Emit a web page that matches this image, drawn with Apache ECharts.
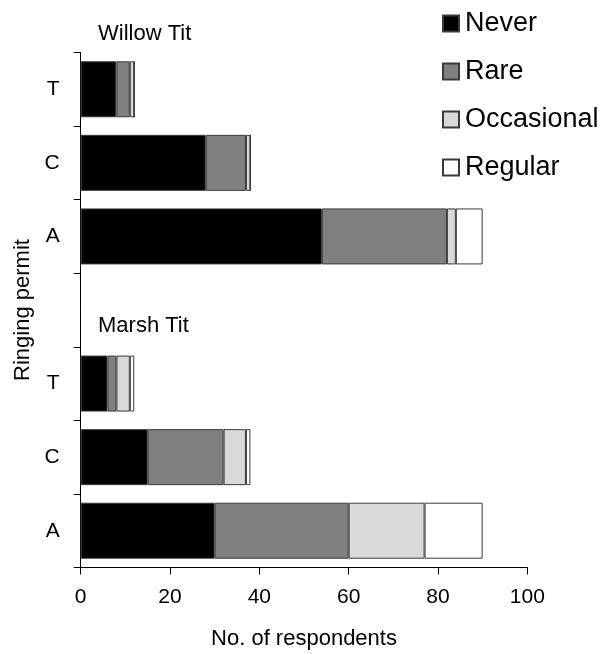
<!DOCTYPE html>
<html><head><meta charset="utf-8">
<script src="https://cdn.jsdelivr.net/npm/echarts@6/dist/echarts.min.js"></script>
<style>html,body{margin:0;padding:0;background:#fff}#c{width:607px;height:654px}</style>
</head><body><div id="c"></div>
<script>
const slots = ['WT','WC','WA','gap','MT','MC','MA'];
const slotLabels = ['T','C','A','','T','C','A'];
const groupLabels = ['Willow Tit','Marsh Tit'];
const seriesNames = ['Never','Rare','Occasional','Regular'];
const never      = [8, 28, 54, null, 6, 15, 30];
const rare       = [3, 9, 28, null, 2, 17, 30];
const occasional = [1, 1, 2, null, 3, 5, 17];
const regular    = [0, 0, 6, null, 1, 1, 13];
const xTicks = [0, 20, 40, 60, 80, 100];
const colors = ['#000000','#808080','#d9d9d9','#ffffff'];

const font = 'Liberation Sans, Arial, sans-serif';
const chart = echarts.init(document.getElementById('c'), null, {renderer:'canvas'});
const values = [never, rare, occasional, regular];
const series = seriesNames.map((n,i)=>({
  name:n, type:'bar', stack:'s', barWidth:56,
  data: values[i],
  itemStyle:{color:colors[i], borderColor:'#3a3a3a', borderWidth:1},
  emphasis:{disabled:true}, animation:false
}));
chart.setOption({
  animation:false,
  textStyle:{fontFamily:font},
  grid:{left:80.7, right:79.7, top:52.5, bottom:86.5, containLabel:false, outerBoundsMode:'none'},
  legend:{
    orient:'vertical', left:437, top:5, itemWidth:16, itemHeight:16, itemGap:21,
    icon:'rect',
    textStyle:{fontSize:27, color:'#000', fontFamily:font, lineHeight:26, padding:[0,0,0,1]},
    data: seriesNames
  },
  xAxis:{
    type:'value', min:xTicks[0], max:xTicks[xTicks.length-1], interval:20,
    name:'No. of respondents', nameLocation:'middle', nameGap:60,
    nameTextStyle:{fontSize:22, color:'#000', fontFamily:font},
    axisLine:{show:true, lineStyle:{color:'#000', width:1}},
    axisTick:{show:true, length:7, lineStyle:{color:'#000'}},
    axisLabel:{fontSize:21, color:'#000', margin:19, fontFamily:font},
    splitLine:{show:false}
  },
  yAxis:{
    type:'category', inverse:true, data:slots,
    name:'Ringing permit', nameLocation:'middle', nameGap:47, nameRotate:90,
    nameTextStyle:{fontSize:22, color:'#000', fontFamily:font},
    axisLine:{show:true, lineStyle:{color:'#000', width:1}},
    axisTick:{show:true, length:7, lineStyle:{color:'#000'}},
    axisLabel:{fontSize:21, color:'#000', margin:21, fontFamily:font,
      formatter:(v,i)=>slotLabels[slots.indexOf(v)]},
    splitLine:{show:false}
  },
  graphic:[
    {type:'text', left:98, top:23, style:{text:groupLabels[0], font:'22px '+font, fill:'#000'}},
    {type:'text', left:98, top:315, style:{text:groupLabels[1], font:'22px '+font, fill:'#000'}}
  ],
  series: series
});
</script></body></html>
